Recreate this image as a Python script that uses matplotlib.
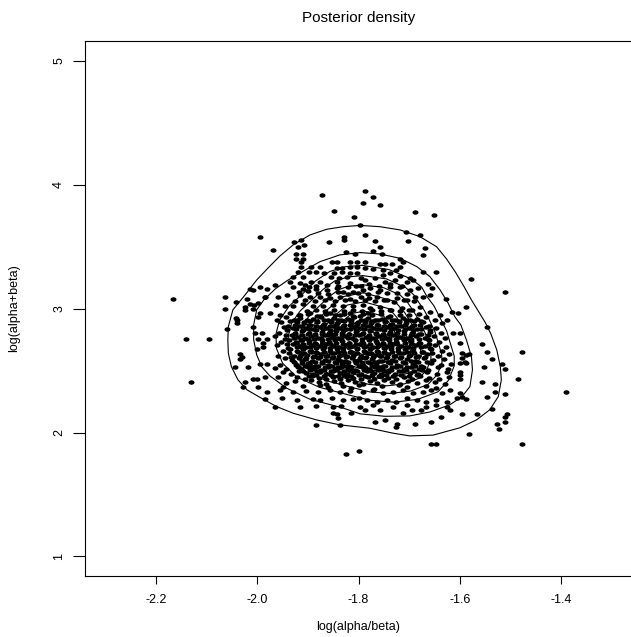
import matplotlib
matplotlib.use("Agg")
import matplotlib.pyplot as plt

plt.rcParams['font.family'] = ['Liberation Sans', 'DejaVu Sans']

# posterior draws (log(alpha/beta), log(alpha+beta))
draws_left = [
    (-2.166, 3.078), (-2.064, 3.092), (-2.064, 2.995), (-2.014, 3.157), (-2.008, 3.150), (-1.995, 3.173),
    (-2.041, 3.052), (-2.020, 3.076), (-1.984, 3.092), (-2.024, 3.016), (-2.024, 2.990), (-2.014, 3.035),
    (-2.006, 3.030), (-1.999, 3.048), (-2.009, 2.995), (-1.995, 2.963), (-2.041, 2.923), (-1.998, 2.935),
    (-2.040, 2.909), (-2.040, 2.887), (-2.009, 2.850), (-2.005, 2.806), (-1.991, 2.806), (-2.059, 2.834),
    (-2.141, 2.753), (-2.095, 2.753), (-2.024, 2.753), (-1.999, 2.753), (-1.989, 2.726), (-1.980, 2.753),
    (-1.989, 2.689), (-2.000, 2.673), (-2.034, 2.635), (-2.031, 2.608), (-2.034, 2.592), (-1.995, 2.554),
    (-1.980, 2.554), (-2.044, 2.527), (-2.019, 2.527), (-2.130, 2.406), (-2.008, 2.431), (-2.001, 2.431),
    (-1.984, 2.447), (-2.024, 2.406), (-2.029, 2.366), (-1.999, 2.366), (-1.980, 2.326), (-1.984, 2.269),
]

draws_top = [
    (-1.995, 3.576), (-1.873, 3.915), (-1.787, 3.952), (-1.792, 3.855), (-1.849, 3.790), (-1.809, 3.737),
    (-1.798, 3.673), (-1.787, 3.592), (-1.968, 3.471), (-1.928, 3.535), (-1.914, 3.552), (-1.919, 3.495),
    (-1.908, 3.511), (-1.858, 3.535), (-1.828, 3.576), (-1.828, 3.552), (-1.923, 3.439), (-1.909, 3.439),
    (-1.924, 3.398), (-1.909, 3.398), (-1.914, 3.374), (-1.824, 3.455), (-1.806, 3.439), (-1.853, 3.374),
    (-1.843, 3.374), (-1.817, 3.374), (-1.802, 3.374), (-1.787, 3.374), (-1.893, 3.334), (-1.876, 3.334),
    (-1.914, 3.334), (-1.843, 3.326), (-1.832, 3.326), (-1.817, 3.334), (-1.802, 3.334), (-1.787, 3.330),
    (-1.919, 3.298), (-1.897, 3.298), (-1.883, 3.298), (-1.868, 3.290), (-1.849, 3.285), (-1.833, 3.298),
    (-1.817, 3.285), (-1.802, 3.285), (-1.929, 3.258), (-1.909, 3.258), (-1.855, 3.255), (-1.838, 3.245),
    (-1.822, 3.255), (-1.796, 3.245), (-1.935, 3.218), (-1.916, 3.205), (-1.893, 3.218), (-1.876, 3.218),
    (-1.843, 3.218), (-1.817, 3.205), (-1.804, 3.183), (-1.796, 3.183), (-1.981, 3.157), (-1.965, 3.191),
    (-1.929, 3.173), (-1.909, 3.157), (-1.897, 3.173), (-1.883, 3.157), (-1.863, 3.151), (-1.843, 3.165),
    (-1.830, 3.137), (-1.811, 3.137), (-1.791, 3.151), (-1.985, 3.092), (-1.959, 3.097), (-1.942, 3.110),
    (-1.916, 3.110), (-1.896, 3.097), (-1.876, 3.097), (-1.857, 3.084), (-1.837, 3.097), (-1.817, 3.076),
    (-1.796, 3.097), (-1.780, 3.084), (-1.962, 3.030), (-1.945, 3.020), (-1.929, 3.025), (-1.909, 3.040),
    (-1.890, 3.025), (-1.870, 3.020), (-1.850, 3.030), (-1.830, 3.020), (-1.811, 3.025), (-1.791, 3.030),
    (-1.975, 2.963), (-1.955, 2.949), (-1.935, 2.968), (-1.916, 2.949), (-1.896, 2.963), (-1.876, 2.941),
    (-1.857, 2.963), (-1.837, 2.949), (-1.817, 2.963), (-1.797, 2.941), (-1.781, 2.963),
    (-1.772, 3.898), (-1.758, 3.834), (-1.688, 3.778), (-1.651, 3.753), (-1.707, 3.616), (-1.678, 3.592),
    (-1.767, 3.548), (-1.702, 3.548), (-1.758, 3.495), (-1.772, 3.468), (-1.753, 3.441), (-1.668, 3.492),
    (-1.673, 3.436), (-1.718, 3.398), (-1.712, 3.374), (-1.758, 3.360), (-1.748, 3.360), (-1.733, 3.360),
    (-1.718, 3.334), (-1.725, 3.312), (-1.672, 3.294), (-1.647, 3.294), (-1.771, 3.318), (-1.751, 3.312),
    (-1.738, 3.285), (-1.751, 3.272), (-1.718, 3.264), (-1.698, 3.245), (-1.692, 3.231), (-1.705, 3.218),
    (-1.662, 3.199), (-1.655, 3.165), (-1.787, 3.231), (-1.767, 3.245), (-1.748, 3.218), (-1.728, 3.231),
    (-1.718, 3.177), (-1.777, 3.165), (-1.758, 3.151), (-1.738, 3.177), (-1.698, 3.151), (-1.682, 3.165),
    (-1.672, 3.097), (-1.659, 3.110), (-1.628, 3.076), (-1.616, 2.976), (-1.587, 3.011), (-1.763, 3.097),
    (-1.743, 3.070), (-1.724, 3.084), (-1.704, 3.070), (-1.688, 3.097), (-1.777, 3.003), (-1.758, 3.016),
    (-1.735, 2.990), (-1.715, 3.003), (-1.695, 2.990), (-1.679, 3.016), (-1.659, 2.976), (-1.639, 2.949),
    (-1.603, 2.963), (-1.577, 3.237), (-1.511, 3.132),
]

draws_right = [
    (-1.546, 2.850), (-1.600, 2.806), (-1.557, 2.713), (-1.546, 2.648), (-1.477, 2.648), (-1.537, 2.592),
    (-1.587, 2.627), (-1.582, 2.632), (-1.595, 2.600), (-1.590, 2.568), (-1.600, 2.560), (-1.600, 2.492),
    (-1.517, 2.552), (-1.511, 2.512), (-1.552, 2.527), (-1.600, 2.431), (-1.486, 2.431), (-1.557, 2.406),
    (-1.531, 2.390), (-1.531, 2.326), (-1.511, 2.310), (-1.391, 2.326), (-1.595, 2.286), (-1.587, 2.269),
    (-1.546, 2.286), (-1.537, 2.189), (-1.567, 2.148), (-1.506, 2.148), (-1.511, 2.124), (-1.511, 2.084),
    (-1.527, 2.068), (-1.522, 2.027), (-1.582, 1.987), (-1.477, 1.906), (-1.600, 2.465), (-1.587, 2.559),
    (-1.595, 2.640), (-1.600, 2.721), (-1.613, 2.801), (-1.626, 2.908),
]

draws_bottom = [
    (-1.800, 1.852), (-1.824, 1.828), (-1.657, 1.906), (-1.647, 1.906), (-1.726, 2.044), (-1.723, 2.068),
    (-1.767, 2.084), (-1.748, 2.102), (-1.688, 2.068), (-1.657, 2.084), (-1.637, 2.124), (-1.596, 2.151),
    (-1.787, 2.183), (-1.758, 2.183), (-1.712, 2.156), (-1.695, 2.183), (-1.676, 2.183), (-1.620, 2.183),
    (-1.771, 2.220), (-1.732, 2.210), (-1.705, 2.220), (-1.666, 2.210), (-1.646, 2.220), (-1.626, 2.210),
    (-1.606, 2.277), (-1.600, 2.318), (-1.784, 2.264), (-1.764, 2.250), (-1.744, 2.264), (-1.725, 2.250),
    (-1.705, 2.277), (-1.685, 2.264), (-1.666, 2.250), (-1.646, 2.264), (-1.626, 2.250), (-1.791, 2.331),
    (-1.771, 2.345), (-1.751, 2.323), (-1.732, 2.331), (-1.712, 2.345), (-1.692, 2.323), (-1.672, 2.331),
    (-1.656, 2.345), (-1.636, 2.323), (-1.620, 2.345), (-1.955, 2.340), (-1.929, 2.325), (-1.903, 2.335),
    (-1.880, 2.325), (-1.857, 2.340), (-1.837, 2.328), (-1.817, 2.335), (-1.952, 2.275), (-1.922, 2.262),
    (-1.889, 2.272), (-1.876, 2.262), (-1.853, 2.275), (-1.830, 2.265), (-1.811, 2.272), (-1.800, 2.280),
    (-1.965, 2.210), (-1.916, 2.205), (-1.883, 2.215), (-1.850, 2.205), (-1.834, 2.215), (-1.797, 2.210),
    (-1.850, 2.156), (-1.843, 2.150), (-1.814, 2.160), (-1.840, 2.116), (-1.883, 2.062), (-1.837, 2.062),
]

draws_core = [
    (-1.961, 2.910), (-1.943, 2.930), (-1.928, 2.910), (-1.915, 2.925), (-1.902, 2.905), (-1.889, 2.920),
    (-1.874, 2.930), (-1.861, 2.910), (-1.848, 2.925), (-1.835, 2.905), (-1.821, 2.920), (-1.808, 2.935),
    (-1.795, 2.910), (-1.781, 2.925), (-1.768, 2.905), (-1.754, 2.920), (-1.741, 2.930), (-1.727, 2.910),
    (-1.713, 2.925), (-1.699, 2.905), (-1.684, 2.920), (-1.667, 2.930), (-1.648, 2.910),
    (-1.953, 2.890), (-1.921, 2.895), (-1.907, 2.880), (-1.895, 2.870), (-1.882, 2.890), (-1.868, 2.875),
    (-1.855, 2.895), (-1.842, 2.880), (-1.829, 2.870), (-1.815, 2.890), (-1.802, 2.875), (-1.788, 2.895),
    (-1.775, 2.880), (-1.761, 2.870), (-1.748, 2.890), (-1.734, 2.875), (-1.720, 2.895), (-1.706, 2.880),
    (-1.690, 2.870), (-1.673, 2.890), (-1.636, 2.885),
    (-1.948, 2.855), (-1.930, 2.840), (-1.917, 2.860), (-1.903, 2.845), (-1.890, 2.835), (-1.877, 2.855),
    (-1.864, 2.840), (-1.851, 2.860), (-1.838, 2.845), (-1.824, 2.835), (-1.811, 2.855), (-1.798, 2.840),
    (-1.784, 2.860), (-1.771, 2.845), (-1.757, 2.835), (-1.744, 2.855), (-1.730, 2.840), (-1.716, 2.860),
    (-1.701, 2.845), (-1.685, 2.835), (-1.667, 2.855), (-1.646, 2.840),
    (-1.957, 2.800), (-1.925, 2.800), (-1.911, 2.820), (-1.898, 2.805), (-1.885, 2.795), (-1.872, 2.815),
    (-1.858, 2.800), (-1.845, 2.820), (-1.832, 2.805), (-1.819, 2.795), (-1.805, 2.815), (-1.792, 2.800),
    (-1.778, 2.820), (-1.765, 2.805), (-1.751, 2.795), (-1.738, 2.815), (-1.724, 2.800), (-1.710, 2.820),
    (-1.694, 2.805), (-1.677, 2.795), (-1.658, 2.815), (-1.637, 2.800),
    (-1.964, 2.780), (-1.932, 2.785), (-1.919, 2.770), (-1.906, 2.760), (-1.893, 2.780), (-1.880, 2.765),
    (-1.866, 2.785), (-1.853, 2.770), (-1.840, 2.760), (-1.826, 2.780), (-1.813, 2.765), (-1.800, 2.785),
    (-1.786, 2.770), (-1.773, 2.760), (-1.759, 2.780), (-1.746, 2.765), (-1.732, 2.785), (-1.718, 2.770),
    (-1.703, 2.760), (-1.687, 2.780), (-1.669, 2.765), (-1.650, 2.775), (-1.629, 2.765),
    (-1.953, 2.730), (-1.938, 2.745), (-1.924, 2.730), (-1.911, 2.750), (-1.898, 2.735), (-1.885, 2.725),
    (-1.872, 2.745), (-1.859, 2.730), (-1.846, 2.750), (-1.833, 2.735), (-1.819, 2.725), (-1.806, 2.745),
    (-1.793, 2.730), (-1.779, 2.750), (-1.766, 2.735), (-1.752, 2.725), (-1.739, 2.745), (-1.725, 2.730),
    (-1.711, 2.750), (-1.696, 2.735), (-1.680, 2.725), (-1.661, 2.745), (-1.641, 2.730),
    (-1.961, 2.710), (-1.929, 2.715), (-1.916, 2.700), (-1.903, 2.690), (-1.890, 2.710), (-1.877, 2.695),
    (-1.864, 2.715), (-1.851, 2.700), (-1.838, 2.690), (-1.825, 2.710), (-1.811, 2.695), (-1.798, 2.715),
    (-1.785, 2.700), (-1.771, 2.690), (-1.758, 2.710), (-1.744, 2.695), (-1.731, 2.715), (-1.717, 2.700),
    (-1.702, 2.690), (-1.686, 2.710), (-1.668, 2.695), (-1.648, 2.705), (-1.627, 2.690),
    (-1.950, 2.655), (-1.935, 2.670), (-1.922, 2.655), (-1.909, 2.675), (-1.896, 2.660), (-1.883, 2.650),
    (-1.870, 2.670), (-1.857, 2.655), (-1.843, 2.675), (-1.830, 2.660), (-1.817, 2.650), (-1.803, 2.670),
    (-1.790, 2.655), (-1.777, 2.675), (-1.763, 2.660), (-1.750, 2.650), (-1.736, 2.670), (-1.722, 2.655),
    (-1.708, 2.675), (-1.692, 2.660), (-1.675, 2.650), (-1.656, 2.670), (-1.635, 2.655),
    (-1.958, 2.620), (-1.928, 2.620), (-1.914, 2.640), (-1.901, 2.625), (-1.888, 2.615), (-1.875, 2.635),
    (-1.862, 2.620), (-1.849, 2.640), (-1.835, 2.625), (-1.822, 2.615), (-1.809, 2.635), (-1.795, 2.620),
    (-1.782, 2.640), (-1.768, 2.625), (-1.755, 2.615), (-1.741, 2.635), (-1.728, 2.620), (-1.713, 2.640),
    (-1.698, 2.625), (-1.682, 2.615), (-1.664, 2.635), (-1.644, 2.620), (-1.622, 2.630),
    (-1.946, 2.600), (-1.931, 2.585), (-1.918, 2.605), (-1.905, 2.590), (-1.892, 2.580), (-1.879, 2.600),
    (-1.866, 2.585), (-1.853, 2.605), (-1.840, 2.590), (-1.827, 2.580), (-1.813, 2.600), (-1.800, 2.585),
    (-1.787, 2.605), (-1.773, 2.590), (-1.760, 2.580), (-1.746, 2.600), (-1.733, 2.585), (-1.719, 2.605),
    (-1.704, 2.590), (-1.688, 2.580), (-1.671, 2.600), (-1.652, 2.585), (-1.632, 2.595),
    (-1.955, 2.545), (-1.924, 2.545), (-1.911, 2.565), (-1.898, 2.550), (-1.885, 2.540), (-1.872, 2.560),
    (-1.858, 2.545), (-1.845, 2.565), (-1.832, 2.550), (-1.819, 2.540), (-1.805, 2.560), (-1.792, 2.545),
    (-1.778, 2.565), (-1.765, 2.550), (-1.751, 2.540), (-1.738, 2.560), (-1.724, 2.545), (-1.709, 2.565),
    (-1.693, 2.550), (-1.676, 2.540), (-1.657, 2.560), (-1.637, 2.545), (-1.617, 2.555),
    (-1.964, 2.520), (-1.943, 2.510), (-1.914, 2.510), (-1.900, 2.530), (-1.887, 2.515), (-1.874, 2.505),
    (-1.861, 2.525), (-1.847, 2.510), (-1.834, 2.530), (-1.820, 2.515), (-1.807, 2.505), (-1.794, 2.525),
    (-1.780, 2.510), (-1.767, 2.530), (-1.753, 2.515), (-1.740, 2.505), (-1.726, 2.525), (-1.711, 2.510),
    (-1.696, 2.530), (-1.680, 2.515), (-1.662, 2.505), (-1.643, 2.525), (-1.623, 2.510),
    (-1.950, 2.490), (-1.933, 2.475), (-1.918, 2.495), (-1.904, 2.480), (-1.890, 2.470), (-1.877, 2.490),
    (-1.864, 2.475), (-1.850, 2.495), (-1.837, 2.480), (-1.823, 2.470), (-1.810, 2.490), (-1.796, 2.475),
    (-1.783, 2.495), (-1.769, 2.480), (-1.756, 2.470), (-1.742, 2.490), (-1.728, 2.475), (-1.713, 2.495),
    (-1.698, 2.480), (-1.682, 2.470), (-1.664, 2.490), (-1.645, 2.475), (-1.626, 2.485),
    (-1.958, 2.445), (-1.921, 2.450), (-1.906, 2.435), (-1.892, 2.455), (-1.878, 2.440), (-1.864, 2.430),
    (-1.850, 2.450), (-1.837, 2.435), (-1.823, 2.455), (-1.810, 2.440), (-1.796, 2.430), (-1.782, 2.450),
    (-1.769, 2.435), (-1.755, 2.455), (-1.741, 2.440), (-1.726, 2.430), (-1.711, 2.450), (-1.695, 2.435),
    (-1.678, 2.455), (-1.660, 2.440), (-1.641, 2.430), (-1.621, 2.445),
    (-1.944, 2.400), (-1.925, 2.415), (-1.893, 2.420), (-1.878, 2.405), (-1.864, 2.395), (-1.849, 2.415),
    (-1.835, 2.400), (-1.821, 2.420), (-1.806, 2.405), (-1.792, 2.395), (-1.778, 2.415), (-1.763, 2.400),
    (-1.749, 2.420), (-1.734, 2.405), (-1.718, 2.395), (-1.702, 2.415), (-1.685, 2.400), (-1.667, 2.420),
    (-1.648, 2.405), (-1.629, 2.395),
    (-1.950, 2.370), (-1.910, 2.375), (-1.877, 2.380), (-1.861, 2.365), (-1.830, 2.375), (-1.815, 2.360),
    (-1.800, 2.380), (-1.769, 2.355), (-1.753, 2.375), (-1.721, 2.380), (-1.704, 2.365), (-1.667, 2.375),
    (-1.647, 2.360),
]

# the near-solid middle of the cloud
draws_center = [
    (-1.902, 2.982), (-1.884, 2.990), (-1.866, 2.978), (-1.848, 2.988), (-1.829, 2.980), (-1.811, 2.992),
    (-1.793, 2.978), (-1.774, 2.986), (-1.756, 2.980), (-1.737, 2.992), (-1.719, 2.978), (-1.700, 2.986),
    (-1.918, 2.946), (-1.900, 2.955), (-1.882, 2.943), (-1.864, 2.953), (-1.846, 2.945), (-1.828, 2.956),
    (-1.810, 2.944), (-1.791, 2.954), (-1.773, 2.946), (-1.755, 2.956), (-1.737, 2.943), (-1.719, 2.952),
    (-1.700, 2.945), (-1.681, 2.955),
    (-1.935, 2.898), (-1.921, 2.905), (-1.908, 2.895), (-1.895, 2.903), (-1.881, 2.897), (-1.868, 2.906),
    (-1.854, 2.896), (-1.841, 2.904), (-1.828, 2.898), (-1.814, 2.906), (-1.801, 2.895), (-1.788, 2.904),
    (-1.774, 2.897), (-1.761, 2.905), (-1.747, 2.896), (-1.734, 2.904), (-1.720, 2.897), (-1.706, 2.905),
    (-1.691, 2.896), (-1.676, 2.903),
    (-1.939, 2.862), (-1.925, 2.870), (-1.911, 2.860), (-1.897, 2.868), (-1.884, 2.862), (-1.870, 2.871),
    (-1.857, 2.861), (-1.844, 2.869), (-1.831, 2.863), (-1.817, 2.871), (-1.804, 2.860), (-1.791, 2.868),
    (-1.777, 2.862), (-1.764, 2.870), (-1.750, 2.861), (-1.737, 2.869), (-1.723, 2.862), (-1.709, 2.870),
    (-1.694, 2.861), (-1.678, 2.868), (-1.660, 2.862),
    (-1.941, 2.826), (-1.924, 2.834), (-1.910, 2.825), (-1.897, 2.833), (-1.883, 2.827), (-1.870, 2.836),
    (-1.857, 2.826), (-1.844, 2.834), (-1.830, 2.828), (-1.817, 2.836), (-1.804, 2.825), (-1.790, 2.833),
    (-1.777, 2.827), (-1.763, 2.835), (-1.750, 2.826), (-1.736, 2.834), (-1.722, 2.827), (-1.708, 2.835),
    (-1.693, 2.826), (-1.677, 2.833), (-1.659, 2.827),
    (-1.944, 2.786), (-1.926, 2.794), (-1.912, 2.785), (-1.899, 2.793), (-1.886, 2.787), (-1.873, 2.796),
    (-1.859, 2.786), (-1.846, 2.794), (-1.833, 2.788), (-1.819, 2.796), (-1.806, 2.785), (-1.793, 2.793),
    (-1.779, 2.787), (-1.766, 2.795), (-1.752, 2.786), (-1.739, 2.794), (-1.725, 2.787), (-1.711, 2.795),
    (-1.696, 2.786), (-1.680, 2.793), (-1.662, 2.787),
    (-1.945, 2.751), (-1.927, 2.759), (-1.913, 2.750), (-1.900, 2.758), (-1.887, 2.752), (-1.874, 2.761),
    (-1.860, 2.751), (-1.847, 2.759), (-1.834, 2.753), (-1.820, 2.761), (-1.807, 2.750), (-1.794, 2.758),
    (-1.780, 2.752), (-1.767, 2.760), (-1.753, 2.751), (-1.740, 2.759), (-1.726, 2.752), (-1.712, 2.760),
    (-1.697, 2.751), (-1.681, 2.758), (-1.663, 2.752),
    (-1.942, 2.716), (-1.924, 2.724), (-1.910, 2.715), (-1.897, 2.723), (-1.884, 2.717), (-1.871, 2.726),
    (-1.857, 2.716), (-1.844, 2.724), (-1.831, 2.718), (-1.818, 2.726), (-1.804, 2.715), (-1.791, 2.723),
    (-1.778, 2.717), (-1.764, 2.725), (-1.751, 2.716), (-1.737, 2.724), (-1.723, 2.717), (-1.709, 2.725),
    (-1.694, 2.716), (-1.678, 2.723), (-1.660, 2.717),
    (-1.940, 2.681), (-1.922, 2.689), (-1.909, 2.680), (-1.896, 2.688), (-1.883, 2.682), (-1.869, 2.691),
    (-1.856, 2.681), (-1.843, 2.689), (-1.830, 2.683), (-1.816, 2.691), (-1.803, 2.680), (-1.790, 2.688),
    (-1.776, 2.682), (-1.763, 2.690), (-1.749, 2.681), (-1.736, 2.689), (-1.722, 2.682), (-1.707, 2.690),
    (-1.692, 2.681), (-1.676, 2.688), (-1.658, 2.682),
    (-1.937, 2.641), (-1.920, 2.649), (-1.907, 2.640), (-1.894, 2.648), (-1.881, 2.642), (-1.868, 2.651),
    (-1.855, 2.641), (-1.841, 2.649), (-1.828, 2.643), (-1.815, 2.651), (-1.802, 2.640), (-1.788, 2.648),
    (-1.775, 2.642), (-1.762, 2.650), (-1.748, 2.641), (-1.734, 2.649), (-1.720, 2.642), (-1.705, 2.650),
    (-1.690, 2.641), (-1.673, 2.648), (-1.655, 2.642),
    (-1.933, 2.606), (-1.916, 2.614), (-1.903, 2.605), (-1.890, 2.613), (-1.877, 2.607), (-1.864, 2.616),
    (-1.851, 2.606), (-1.838, 2.614), (-1.824, 2.608), (-1.811, 2.616), (-1.798, 2.605), (-1.785, 2.613),
    (-1.771, 2.607), (-1.758, 2.615), (-1.744, 2.606), (-1.730, 2.614), (-1.716, 2.607), (-1.701, 2.615),
    (-1.686, 2.606), (-1.669, 2.613),
    (-1.928, 2.566), (-1.912, 2.574), (-1.899, 2.565), (-1.886, 2.573), (-1.873, 2.567), (-1.860, 2.576),
    (-1.847, 2.566), (-1.834, 2.574), (-1.821, 2.568), (-1.807, 2.576), (-1.794, 2.565), (-1.781, 2.573),
    (-1.768, 2.567), (-1.754, 2.575), (-1.741, 2.566), (-1.727, 2.574), (-1.712, 2.567), (-1.697, 2.575),
    (-1.682, 2.566), (-1.665, 2.573),
    (-1.920, 2.526), (-1.905, 2.534), (-1.892, 2.525), (-1.879, 2.533), (-1.866, 2.527), (-1.853, 2.536),
    (-1.840, 2.526), (-1.827, 2.534), (-1.814, 2.528), (-1.800, 2.536), (-1.787, 2.525), (-1.774, 2.533),
    (-1.760, 2.527), (-1.747, 2.535), (-1.733, 2.526), (-1.719, 2.534), (-1.704, 2.527), (-1.689, 2.535),
    (-1.672, 2.526),
    (-1.910, 2.496), (-1.895, 2.503), (-1.881, 2.494), (-1.868, 2.502), (-1.855, 2.497), (-1.842, 2.505),
    (-1.829, 2.495), (-1.816, 2.503), (-1.802, 2.497), (-1.789, 2.505), (-1.776, 2.494), (-1.762, 2.502),
    (-1.749, 2.496), (-1.735, 2.504), (-1.721, 2.495), (-1.706, 2.503), (-1.691, 2.496), (-1.675, 2.503),
    (-1.898, 2.456), (-1.883, 2.464), (-1.869, 2.455), (-1.855, 2.463), (-1.841, 2.457), (-1.828, 2.465),
    (-1.814, 2.455), (-1.800, 2.463), (-1.787, 2.457), (-1.773, 2.465), (-1.759, 2.455), (-1.745, 2.463),
    (-1.731, 2.456), (-1.716, 2.464), (-1.700, 2.455), (-1.684, 2.462),
]

# band just above the solid middle, where the cloud thins out
draws_upper_band = [
    (-1.925, 3.060), (-1.905, 3.072), (-1.885, 3.058), (-1.866, 3.068), (-1.846, 3.060), (-1.826, 3.072),
    (-1.806, 3.058), (-1.787, 3.066), (-1.768, 3.058), (-1.749, 3.070), (-1.729, 3.056), (-1.710, 3.066),
    (-1.691, 3.058),
    (-1.918, 3.130), (-1.899, 3.140), (-1.879, 3.126), (-1.860, 3.118), (-1.840, 3.130), (-1.821, 3.118),
    (-1.801, 3.124), (-1.782, 3.118), (-1.762, 3.130), (-1.744, 3.122), (-1.724, 3.128), (-1.705, 3.118),
    (-1.905, 3.190), (-1.884, 3.180), (-1.862, 3.192), (-1.841, 3.184), (-1.820, 3.175), (-1.780, 3.195),
    (-1.759, 3.182), (-1.738, 3.196), (-1.715, 3.186),
]

# contour lines, outermost first
contour_05 = [
    (-1.797, 3.671), (-1.758, 3.661), (-1.718, 3.635), (-1.679, 3.581), (-1.646, 3.500), (-1.626, 3.400),
    (-1.608, 3.290), (-1.592, 3.180), (-1.577, 3.070), (-1.562, 2.970), (-1.550, 2.890), (-1.539, 2.800),
    (-1.527, 2.667), (-1.520, 2.532), (-1.518, 2.425), (-1.524, 2.290), (-1.541, 2.183), (-1.567, 2.102),
    (-1.600, 2.038), (-1.653, 1.979), (-1.699, 1.973), (-1.732, 1.995), (-1.778, 2.035), (-1.837, 2.062),
    (-1.883, 2.102), (-1.929, 2.156), (-1.962, 2.210), (-1.995, 2.285), (-2.020, 2.344), (-2.038, 2.425),
    (-2.051, 2.532), (-2.057, 2.640), (-2.058, 2.748), (-2.057, 2.855), (-2.048, 2.990), (-2.024, 3.110),
    (-2.001, 3.231), (-1.978, 3.330), (-1.955, 3.425), (-1.929, 3.514), (-1.896, 3.594), (-1.863, 3.640),
    (-1.830, 3.661), (-1.797, 3.671),
]
contour_15 = [
    (-1.797, 3.452), (-1.758, 3.441), (-1.718, 3.406), (-1.685, 3.339), (-1.659, 3.258), (-1.639, 3.151),
    (-1.623, 3.044), (-1.610, 2.935), (-1.598, 2.869), (-1.587, 2.748), (-1.577, 2.613), (-1.575, 2.506),
    (-1.580, 2.371), (-1.596, 2.288), (-1.620, 2.223), (-1.659, 2.166), (-1.699, 2.134), (-1.748, 2.131),
    (-1.797, 2.151), (-1.830, 2.197), (-1.896, 2.269), (-1.942, 2.358), (-1.975, 2.457), (-1.991, 2.530),
    (-2.001, 2.627), (-2.007, 2.748), (-2.007, 2.869), (-2.001, 2.990), (-1.987, 3.070), (-1.964, 3.160),
    (-1.940, 3.228), (-1.912, 3.295), (-1.876, 3.379), (-1.837, 3.433), (-1.797, 3.452),
]
contour_25 = [
    (-1.793, 3.349), (-1.740, 3.315), (-1.695, 3.238), (-1.675, 3.172), (-1.665, 3.098), (-1.651, 3.022),
    (-1.641, 2.942), (-1.626, 2.820), (-1.617, 2.696), (-1.611, 2.617), (-1.611, 2.539), (-1.622, 2.423),
    (-1.643, 2.329), (-1.683, 2.268), (-1.729, 2.245), (-1.777, 2.260), (-1.819, 2.303), (-1.877, 2.365),
    (-1.922, 2.448), (-1.950, 2.560), (-1.962, 2.679), (-1.963, 2.795), (-1.956, 2.906), (-1.937, 3.020),
    (-1.909, 3.124), (-1.885, 3.222), (-1.857, 3.299), (-1.826, 3.338), (-1.793, 3.349),
]
contour_35 = [
    (-1.792, 3.266), (-1.745, 3.240), (-1.707, 3.170), (-1.691, 3.112), (-1.681, 3.050), (-1.670, 2.985),
    (-1.661, 2.916), (-1.649, 2.812), (-1.641, 2.704), (-1.636, 2.636), (-1.635, 2.568), (-1.644, 2.469),
    (-1.663, 2.387), (-1.697, 2.335), (-1.737, 2.315), (-1.777, 2.327), (-1.814, 2.365), (-1.863, 2.418),
    (-1.903, 2.490), (-1.927, 2.585), (-1.937, 2.688), (-1.938, 2.787), (-1.932, 2.884), (-1.915, 2.982),
    (-1.891, 3.073), (-1.870, 3.155), (-1.847, 3.223), (-1.820, 3.256), (-1.792, 3.266),
]
contour_45 = [
    (-1.791, 3.192), (-1.750, 3.168), (-1.718, 3.110), (-1.705, 3.060), (-1.696, 3.007), (-1.687, 2.950),
    (-1.679, 2.892), (-1.668, 2.800), (-1.661, 2.710), (-1.657, 2.652), (-1.657, 2.594), (-1.665, 2.508),
    (-1.680, 2.439), (-1.709, 2.393), (-1.744, 2.377), (-1.779, 2.388), (-1.810, 2.420), (-1.852, 2.466),
    (-1.886, 2.527), (-1.907, 2.610), (-1.916, 2.697), (-1.916, 2.782), (-1.911, 2.865), (-1.896, 2.948),
    (-1.876, 3.026), (-1.858, 3.097), (-1.838, 3.155), (-1.816, 3.185), (-1.791, 3.192),
]
contour_55 = [
    (-1.790, 3.128), (-1.728, 3.058), (-1.709, 2.969), (-1.694, 2.871), (-1.679, 2.716), (-1.676, 2.617),
    (-1.696, 2.484), (-1.750, 2.431), (-1.806, 2.468), (-1.871, 2.559), (-1.897, 2.705), (-1.893, 2.848),
    (-1.863, 2.986), (-1.831, 3.096), (-1.790, 3.128),
]
contour_65 = [
    (-1.789, 3.054), (-1.739, 2.998), (-1.724, 2.927), (-1.712, 2.848), (-1.700, 2.723), (-1.697, 2.643),
    (-1.713, 2.536), (-1.757, 2.494), (-1.802, 2.523), (-1.854, 2.597), (-1.875, 2.714), (-1.872, 2.829),
    (-1.848, 2.940), (-1.822, 3.029), (-1.789, 3.054),
]
contour_75 = [
    (-1.788, 2.980), (-1.750, 2.938), (-1.739, 2.884), (-1.730, 2.824), (-1.720, 2.729), (-1.718, 2.669),
    (-1.730, 2.588), (-1.763, 2.556), (-1.798, 2.578), (-1.838, 2.634), (-1.853, 2.722), (-1.851, 2.810),
    (-1.833, 2.894), (-1.813, 2.961), (-1.788, 2.980),
]
contour_85 = [
    (-1.787, 2.907), (-1.761, 2.878), (-1.754, 2.841), (-1.747, 2.800), (-1.741, 2.736), (-1.740, 2.695),
    (-1.748, 2.640), (-1.770, 2.618), (-1.794, 2.633), (-1.821, 2.671), (-1.831, 2.731), (-1.830, 2.791),
    (-1.817, 2.848), (-1.804, 2.893), (-1.787, 2.907),
]
contour_95 = [
    (-1.786, 2.833), (-1.772, 2.818), (-1.768, 2.798), (-1.765, 2.777), (-1.762, 2.743), (-1.761, 2.721),
    (-1.765, 2.692), (-1.777, 2.680), (-1.790, 2.688), (-1.804, 2.708), (-1.809, 2.740), (-1.809, 2.772),
    (-1.802, 2.802), (-1.795, 2.826), (-1.786, 2.833),
]

x_ticks = [-2.2, -2.0, -1.8, -1.6, -1.4]
x_tick_labels = ["-2.2", "-2.0", "-1.8", "-1.6", "-1.4"]
y_ticks = [1, 2, 3, 4, 5]
y_tick_labels = ["1", "2", "3", "4", "5"]

W, H = 631, 637
fig = plt.figure(figsize=(W / 100, H / 100), dpi=100)
ax = fig.add_axes([85 / W, 1 - 576.3 / H, (632 - 85) / W, (576.3 - 40.9) / H])

for c in [contour_05, contour_15, contour_25, contour_35, contour_45,
          contour_55, contour_65, contour_75, contour_85, contour_95]:
    cx, cy = zip(*c)
    ax.plot(cx, cy, color="black", lw=0.8, solid_joinstyle="round")

# slightly flattened dot, as in the reference
dot = [(-1.0, 0.0), (-0.87, 0.37), (-0.5, 0.65), (0.0, 0.75), (0.5, 0.65), (0.87, 0.37),
       (1.0, 0.0), (0.87, -0.37), (0.5, -0.65), (0.0, -0.75), (-0.5, -0.65), (-0.87, -0.37)]
pts = (draws_left + draws_top + draws_right + draws_bottom + draws_core
       + draws_center + draws_upper_band)
px, py = zip(*pts)
ax.plot(px, py, linestyle="none", marker=dot, markersize=4.4, color="black",
        markeredgewidth=0)

ax.set_xlim(-2.34, -1.26)
ax.set_ylim(0.84, 5.16)
ax.set_xticks(x_ticks)
ax.set_xticklabels(x_tick_labels)
ax.set_yticks(y_ticks)
ax.set_yticklabels(y_tick_labels, rotation=90, va="center")
ax.tick_params(axis="x", length=5.8, width=0.8, pad=7, labelsize=9)
ax.tick_params(axis="y", length=8.3, width=0.8, pad=6, labelsize=9)
for s in ax.spines.values():
    s.set_linewidth(0.8)

fig.text(358.5 / W, 1 - 18 / H, "Posterior density", ha="center", va="center", fontsize=11)
fig.text(358.5 / W, 1 - 627 / H, "log(alpha/beta)", ha="center", va="center", fontsize=9)
fig.text(14 / W, 1 - 308.6 / H, "log(alpha+beta)", ha="center", va="center",
         rotation=90, fontsize=9)

fig.savefig("out.png", dpi=100)
